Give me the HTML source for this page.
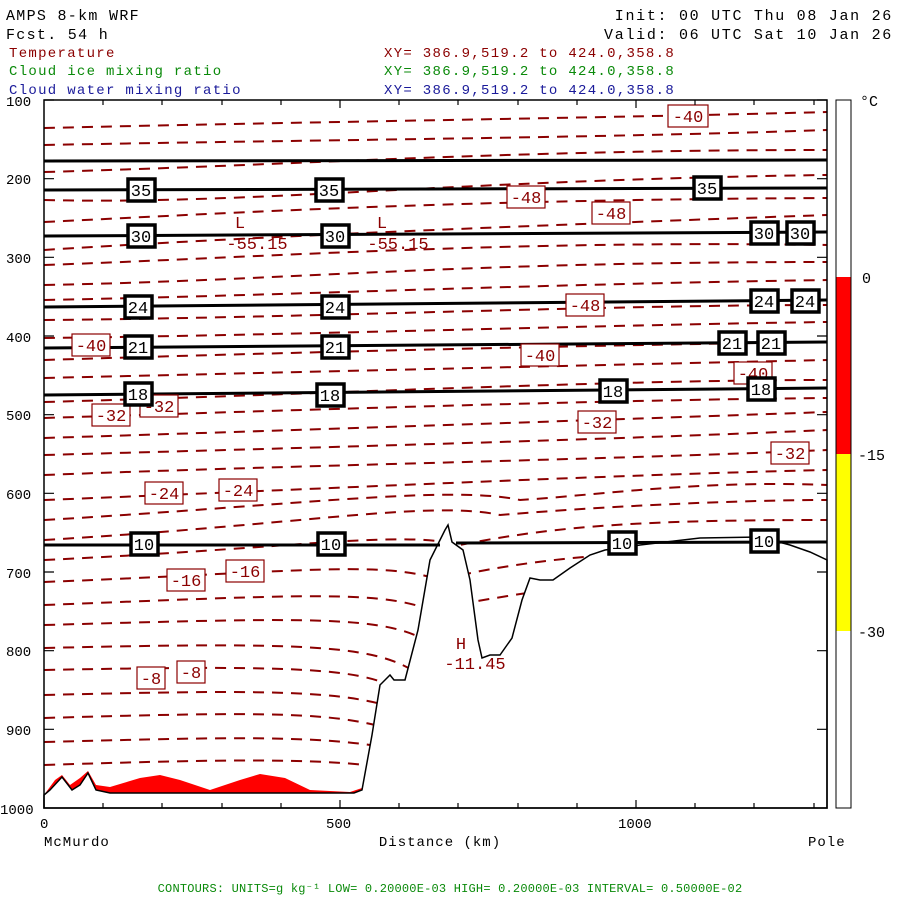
<!DOCTYPE html>
<html><head><meta charset="utf-8"><style>
body{margin:0;background:#fff;width:900px;height:900px;overflow:hidden}
svg{display:block}
text{font-family:"Liberation Mono",monospace}
</style></head><body>
<svg width="900" height="900" viewBox="0 0 900 900" xmlns="http://www.w3.org/2000/svg">
<g font-size="15" letter-spacing="1.3" fill="#000">
<text x="6" y="20">AMPS 8-km WRF</text>
<text x="6" y="39">Fcst.   54 h</text>
<text x="893" y="20" text-anchor="end" letter-spacing="1.7">Init: 00 UTC Thu 08 Jan 26</text>
<text x="893" y="39" text-anchor="end" letter-spacing="1.7">Valid: 06 UTC Sat 10 Jan 26</text>
</g>
<g font-size="14" letter-spacing="1.3">
<text x="9" y="57" fill="#8b0000">Temperature</text>
<text x="9" y="75" fill="#0a8a0a">Cloud ice mixing ratio</text>
<text x="9" y="94" fill="#1a1a9a">Cloud water mixing ratio</text>
<text x="384" y="57" fill="#8b0000">XY= 386.9,519.2 to 424.0,358.8</text>
<text x="384" y="75" fill="#0a8a0a">XY= 386.9,519.2 to 424.0,358.8</text>
<text x="384" y="94" fill="#1a1a9a">XY= 386.9,519.2 to 424.0,358.8</text>
</g>
<!-- red cloud fill -->
<path d="M44 795 L55 780 L62 775 L70 785 L80 778 L88 771 L96 785 L110 787 L140 778 L160 775 L180 780 L210 790 L240 780 L260 774 L285 778 L310 790 L350 792 L362 788 L365 795 Z" fill="#f00"/>
<!-- contours -->
<g fill="none" stroke="#8b0000" stroke-width="2" stroke-dasharray="11 8">
<path d="M44 128 C300 122 600 118 827 112"/>
<path d="M44 145 C300 140 600 138 827 130"/>
<path d="M44 172 C300 165 500 150 827 150"/>
<path d="M44 200 C250 205 450 180 827 175"/>
<path d="M44 222 C250 212 450 200 827 198"/>
<path d="M44 250 C200 240 400 230 827 215"/>
<path d="M44 265 C250 258 500 240 827 245"/>
<path d="M44 285 C300 280 450 262 827 262"/>
<path d="M44 300 C300 295 500 285 827 280"/>
<path d="M44 320 C300 318 600 305 827 305"/>
<path d="M44 338 C300 335 600 325 827 322"/>
<path d="M44 360 C300 352 600 345 827 342"/>
<path d="M44 378 C300 372 600 365 827 360"/>
<path d="M44 402 C300 395 600 380 827 380"/>
<path d="M44 418 C300 410 600 400 827 398"/>
<path d="M44 438 C300 430 600 420 827 412"/>
<path d="M44 455 C300 448 600 440 827 430"/>
<path d="M44 475 C300 465 600 460 827 450"/>
<path d="M44 500 C300 490 600 475 827 470"/>
<path d="M44 520 C300 505 450 485 520 500 C600 495 700 480 827 485"/>
<path d="M44 540 C300 525 430 500 500 515 C620 505 750 500 827 500"/>
<path d="M44 560 C300 548 400 530 460 545 C560 525 650 520 827 520"/>
<path d="M44 582 C300 572 380 560 440 580 C520 560 600 555 680 550"/>
<path d="M44 605 C300 595 380 590 430 610 C480 600 540 590 590 585"/>
<path d="M44 625 C300 618 380 615 425 640"/>
<path d="M44 648 C300 642 370 645 412 670"/>
<path d="M44 670 C300 665 360 668 400 690"/>
<path d="M44 695 C250 690 330 690 385 705"/>
<path d="M44 718 C250 712 320 712 375 725"/>
<path d="M44 742 C200 738 300 735 370 745"/>
<path d="M44 765 C200 760 300 758 365 765"/>
</g>
<!-- terrain -->
<path d="M44 795 L50 790 L62 777 L72 790 L80 785 L88 773 L96 790 L110 793 L354 793 L362 790 L372 735 L380 685 L390 675 L394 680 L405 680 L418 630 L430 560 L445 530 L448 525 L452 542 L463 550 L470 580 L478 640 L482 658 L490 655 L500 655 L512 638 L522 600 L530 578 L540 580 L553 580 L570 568 L590 555 L605 550 L640 545 L700 538 L760 537 L790 545 L810 552 L827 560 L827 808 L44 808 Z" fill="#fff" stroke="#000" stroke-width="1.5"/>
<!-- black lines -->
<g fill="none" stroke="#000" stroke-width="3">
<path d="M44 161 L827 160"/>
<path d="M44 190 L827 188"/>
<path d="M44 236 L827 232"/>
<path d="M44 307 L827 300"/>
<path d="M44 348 L827 342"/>
<path d="M44 395 L827 388"/>
<path d="M44 545 L440 545 M456 543 L827 542"/>
</g>
<!-- red labels -->
<g font-size="17" fill="#8b0000" text-anchor="middle">
<g fill="#fff" stroke="#8b0000" stroke-width="1.2">
<rect x="668" y="105" width="40" height="22"/><rect x="507" y="186" width="38" height="22"/><rect x="592" y="202" width="38" height="22"/><rect x="566" y="294" width="38" height="22"/><rect x="72" y="334" width="38" height="22"/><rect x="521" y="344" width="38" height="22"/><rect x="734" y="362" width="38" height="22"/><rect x="92" y="404" width="38" height="22"/><rect x="140" y="395" width="38" height="22"/><rect x="578" y="411" width="38" height="22"/><rect x="771" y="442" width="38" height="22"/><rect x="145" y="482" width="38" height="22"/><rect x="219" y="479" width="38" height="22"/><rect x="167" y="569" width="38" height="22"/><rect x="226" y="560" width="38" height="22"/><rect x="137" y="667" width="28" height="22"/><rect x="177" y="661" width="28" height="22"/>
</g>
<text x="688" y="122">-40</text><text x="526" y="203">-48</text><text x="611" y="219">-48</text><text x="585" y="311">-48</text><text x="91" y="351">-40</text><text x="540" y="361">-40</text><text x="753" y="379">-40</text><text x="111" y="421">-32</text><text x="159" y="412">-32</text><text x="597" y="428">-32</text><text x="790" y="459">-32</text><text x="164" y="499">-24</text><text x="238" y="496">-24</text><text x="186" y="586">-16</text><text x="245" y="577">-16</text><text x="151" y="684">-8</text><text x="191" y="678">-8</text>
<text x="240" y="228">L</text><text x="257" y="249">-55.15</text>
<text x="382" y="228">L</text><text x="398" y="249">-55.15</text>
<text x="461" y="649">H</text><text x="475" y="669">-11.45</text>
</g>
<!-- black boxes -->
<g font-size="17" text-anchor="middle">
<g fill="#fff" stroke="#000" stroke-width="3.5">
<rect x="128" y="179" width="27" height="22"/><rect x="316" y="179" width="27" height="22"/><rect x="694" y="177" width="27" height="22"/>
<rect x="128" y="225" width="27" height="22"/><rect x="322" y="225" width="27" height="22"/><rect x="751" y="222" width="27" height="22"/><rect x="787" y="222" width="27" height="22"/>
<rect x="125" y="296" width="27" height="22"/><rect x="322" y="296" width="27" height="22"/><rect x="751" y="290" width="27" height="22"/><rect x="792" y="290" width="27" height="22"/>
<rect x="125" y="336" width="27" height="22"/><rect x="322" y="336" width="27" height="22"/><rect x="719" y="332" width="27" height="22"/><rect x="758" y="332" width="27" height="22"/>
<rect x="125" y="383" width="27" height="22"/><rect x="317" y="384" width="27" height="22"/><rect x="600" y="380" width="27" height="22"/><rect x="748" y="378" width="27" height="22"/>
<rect x="131" y="533" width="27" height="22"/><rect x="318" y="533" width="27" height="22"/><rect x="609" y="532" width="27" height="22"/><rect x="751" y="530" width="27" height="22"/>
</g>
<text x="141" y="196">35</text><text x="329" y="196">35</text><text x="707" y="194">35</text>
<text x="141" y="242">30</text><text x="335" y="242">30</text><text x="764" y="239">30</text><text x="800" y="239">30</text>
<text x="138" y="313">24</text><text x="335" y="313">24</text><text x="764" y="307">24</text><text x="805" y="307">24</text>
<text x="138" y="353">21</text><text x="335" y="353">21</text><text x="732" y="349">21</text><text x="771" y="349">21</text>
<text x="138" y="400">18</text><text x="330" y="401">18</text><text x="613" y="397">18</text><text x="761" y="395">18</text>
<text x="144" y="550">10</text><text x="331" y="550">10</text><text x="622" y="549">10</text><text x="764" y="547">10</text>
</g>
<!-- frame and ticks -->
<rect x="44" y="100" width="783" height="708" fill="none" stroke="#000" stroke-width="1.5"/>
<g stroke="#000" stroke-width="1.2">
<path d="M44 100h10M44 178.7h10M44 257.3h10M44 336h10M44 414.7h10M44 493.3h10M44 572h10M44 650.7h10M44 729.3h10M827 100h-10M827 178.7h-10M827 257.3h-10M827 336h-10M827 414.7h-10M827 493.3h-10M827 572h-10M827 650.7h-10M827 729.3h-10"/>
<path d="M44 808v-8M103 808v-5M162 808v-5M222 808v-5M281 808v-5M340 808v-8M399 808v-5M458 808v-5M518 808v-5M577 808v-5M636 808v-8M695 808v-5M754 808v-5M814 808v-5M103 100v5M162 100v5M222 100v5M281 100v5M340 100v8M399 100v5M458 100v5M518 100v5M577 100v5M636 100v8M695 100v5M754 100v5M814 100v5"/>
</g>
<g font-size="14" fill="#000">
<text x="6" y="106">100</text><text x="6" y="184">200</text><text x="6" y="263">300</text><text x="6" y="342">400</text><text x="6" y="420">500</text><text x="6" y="499">600</text><text x="6" y="578">700</text><text x="6" y="656">800</text><text x="6" y="735">900</text><text x="0" y="814">1000</text>
<text x="40" y="828">0</text><text x="326" y="828">500</text><text x="618" y="828">1000</text>
<text x="44" y="846" letter-spacing="1">McMurdo</text>
<text x="440" y="846" text-anchor="middle" letter-spacing="1">Distance (km)</text>
<text x="808" y="846" letter-spacing="1">Pole</text>
</g>
<!-- colorbar -->
<rect x="836" y="277" width="15" height="177" fill="#f00"/>
<rect x="836" y="454" width="15" height="177" fill="#ff0"/>
<rect x="836" y="100" width="15" height="708" fill="none" stroke="#000" stroke-width="1"/>
<g font-size="15" fill="#000">
<text x="860" y="106">°C</text><text x="862" y="283">0</text><text x="858" y="460">-15</text><text x="858" y="637">-30</text>
</g>
<text x="450" y="892" font-size="12" letter-spacing="0.2" fill="#0a8a0a" text-anchor="middle">CONTOURS:  UNITS=g kg⁻¹  LOW= 0.20000E-03  HIGH= 0.20000E-03  INTERVAL=  0.50000E-02</text>
</svg>
</body></html>
